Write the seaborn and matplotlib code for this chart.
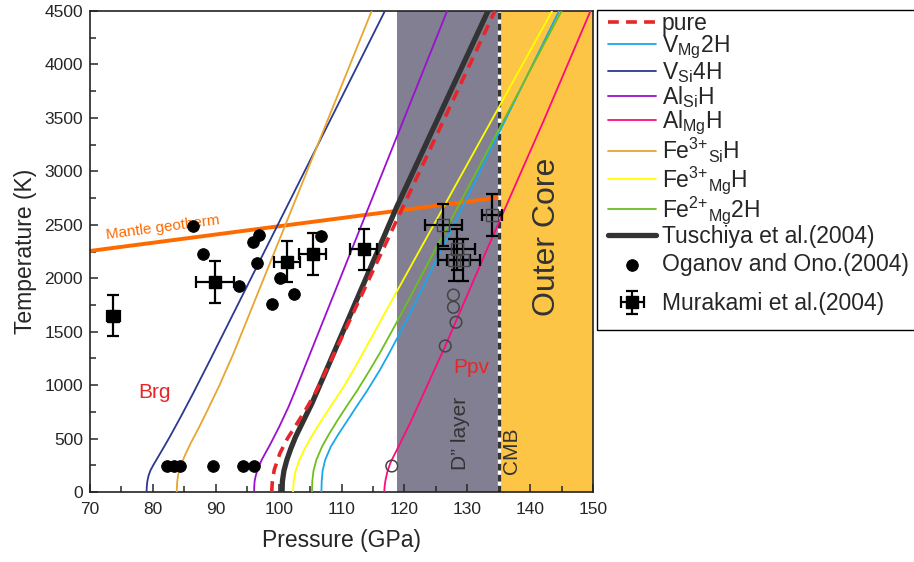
import numpy as np
import pandas as pd
import matplotlib
matplotlib.use("Agg")
import matplotlib.pyplot as plt
from matplotlib.patches import Rectangle
import seaborn as sns

# phase boundaries: temperature (K) vs pressure (GPa)
pure_T = [0, 100, 206, 362, 500, 611, 750, 923, 1141, 4500]
pure_P = [98.9, 99.0, 99.3, 100.2, 101.4, 102.6, 104.1, 105.8, 107.6, 134.4]

vmg2h_T = [0, 100, 200, 300, 424, 540, 674, 800, 950, 1141, 1300, 1600, 4500]
vmg2h_P = [106.8, 106.85, 107.0, 107.4, 108.3, 109.5, 111.0, 112.4, 114.1, 116.1, 117.6, 120.3, 144.6]

vsi4h_T = [0, 50, 100, 150, 200, 250, 330, 420, 517, 700, 923, 1235, 4500]
vsi4h_P = [79.0, 79.03, 79.12, 79.3, 79.6, 80.05, 80.85, 81.75, 82.7, 84.4, 86.4, 89.1, 116.9]

alsi_T = [0, 50, 100, 150, 200, 300, 450, 611, 800, 1000, 4500]
alsi_P = [96.1, 96.12, 96.18, 96.35, 96.6, 97.3, 98.7, 100.1, 101.6, 103.0, 126.8]

almg_T = [0, 50, 112, 190, 268, 330, 393, 643, 1366, 1584, 2264, 3480, 4500]
almg_P = [116.8, 116.85, 117.0, 117.3, 117.75, 118.25, 118.8, 120.9, 126.5, 128.1, 133.1, 142.2, 149.6]

fe3si_T = [0, 50, 100, 170, 237, 350, 455, 600, 767, 1000, 1300, 4500]
fe3si_P = [83.8, 83.82, 83.88, 84.05, 84.35, 85.15, 86.0, 87.3, 88.7, 90.6, 92.85, 114.8]

fe3mg_T = [0, 100, 200, 300, 400, 517, 650, 830, 1000, 1141, 1300, 1600, 4500]
fe3mg_P = [102.3, 102.38, 102.7, 103.3, 104.1, 105.2, 106.6, 108.6, 110.5, 111.9, 113.4, 116.2, 143.5]

fe2mg_T = [0, 100, 200, 300, 424, 540, 674, 800, 950, 1141, 1300, 1600, 4500]
fe2mg_P = [105.3, 105.35, 105.55, 106.0, 106.9, 108.0, 109.4, 110.8, 112.5, 114.5, 116.1, 118.9, 145.0]

tsu_T = [0, 100, 200, 299, 400, 517, 650, 830, 1141, 2669, 4500]
tsu_P = [100.55, 100.6, 100.85, 101.3, 101.9, 102.7, 103.8, 105.3, 107.6, 118.8, 133.3]

geo_P = [70, 134.7]
geo_T = [2255, 2753]

# Oganov and Ono (2004)
og_P = [86.4, 87.9, 93.7, 96.0, 96.9, 96.5, 98.9, 100.2, 102.5, 106.7,
        82.3, 83.4, 84.3, 89.5, 94.3, 96.1]
og_T = [2489, 2224, 1930, 2342, 2404, 2140, 1759, 1999, 1850, 2395,
        240, 240, 240, 240, 240, 240]
og_ppv_P = [118.0, 126.5, 128.2, 127.8, 127.8]
og_ppv_T = [243, 1366, 1588, 1728, 1843]

# Murakami et al. (2004)
mu_P = [73.7, 89.9, 101.3, 105.4, 113.5]
mu_T = [1647, 1962, 2155, 2227, 2270]
mu_Perr = [1.0, 3.0, 2.1, 2.1, 2.1]
mu_Terr = [192, 195, 195, 195, 195]
mu_ppv_P = [126.2, 128.3, 127.9, 129.4, 133.9]
mu_ppv_T = [2498, 2270, 2170, 2170, 2591]
mu_ppv_Perr = [2.9, 2.9, 2.6, 2.6, 1.6]
mu_ppv_Terr = [195, 195, 195, 195, 195]

sns.set_style("ticks")
plt.rcParams["font.family"] = ["Liberation Sans", "DejaVu Sans"]
plt.rcParams["mathtext.default"] = "regular"

fig = plt.figure(figsize=(9.14, 5.62), dpi=100)
ax = fig.add_axes([90 / 914, 1 - 492 / 562, 503 / 914, 481 / 562])

# regions
ax.axvspan(118.9, 135.0, color="#817f91", lw=0, zorder=0)
ax.axvspan(135.0, 150, color="#fdc546", lw=0, zorder=0)
ax.axvline(135.0, color="white", lw=2.4, zorder=1)
ax.axvline(135.0, color="#333333", lw=2.4, ls=(0, (2, 1.3)), zorder=1)

# geotherm
sns.lineplot(x=geo_P, y=geo_T, color="#ff6a00", lw=2.8, ax=ax, zorder=2)

curves = [
    (pure_P, pure_T, "#e8262a", 2.6, (0, (3, 2)), "pure", 6),
    (vmg2h_P, vmg2h_T, "#1aa7ec", 1.3, "-", r"V$_{Mg}$2H", 3),
    (vsi4h_P, vsi4h_T, "#2b3990", 1.3, "-", r"V$_{Si}$4H", 3),
    (alsi_P, alsi_T, "#9b10d0", 1.3, "-", r"Al$_{Si}$H", 3),
    (almg_P, almg_T, "#ff0a7f", 1.3, "-", r"Al$_{Mg}$H", 3),
    (fe3si_P, fe3si_T, "#e8a530", 1.3, "-", r"Fe$^{3{+}}$$_{Si}$H", 3),
    (fe3mg_P, fe3mg_T, "#ffff00", 1.3, "-", r"Fe$^{3{+}}$$_{Mg}$H", 3),
    (fe2mg_P, fe2mg_T, "#6cbf1f", 1.3, "-", r"Fe$^{2{+}}$$_{Mg}$2H", 3),
    (tsu_P, tsu_T, "#333333", 3.8, "-", "Tuschiya et al.(2004)", 5),
]
handles = {}
for P, T, c, lw, ls, lab, z in curves:
    df = pd.DataFrame({"P": P, "T": T})
    sns.lineplot(data=df, x="P", y="T", sort=False, estimator=None,
                 color=c, lw=lw, ls=ls, ax=ax, zorder=z)
    handles[lab] = ax.lines[-1]

# data points
sns.scatterplot(x=og_P, y=og_T, color="black", s=70, edgecolor="black",
                ax=ax, zorder=7)
h_og = ax.collections[-1]
ax.scatter(og_ppv_P, og_ppv_T, s=70, facecolor="none", edgecolor="#444444",
           lw=1.1, zorder=7)

h_mu = ax.errorbar(mu_P, mu_T, xerr=mu_Perr, yerr=mu_Terr, fmt="s", color="black",
                   ms=9, elinewidth=1.6, capsize=4, capthick=1.6, zorder=8)
ax.errorbar(mu_ppv_P, mu_ppv_T, xerr=mu_ppv_Perr, yerr=mu_ppv_Terr, fmt="s",
            color="black", mfc="none", mec="#444444", ms=9, elinewidth=1.6,
            capsize=4, capthick=1.6, zorder=8)

# text annotations
ax.text(81.6, 2478, "Mantle geotherm", color="#ff6a00", fontsize=11,
        rotation=7.5, ha="center", va="center")
ax.text(80.3, 935, "Brg", color="#e8262a", fontsize=15, ha="center", va="center")
ax.text(130.6, 1165, "Ppv", color="#e8262a", fontsize=15, ha="center", va="center")
ax.text(129.0, 545, "D\u201d layer", color="#333333", fontsize=15, rotation=90,
        ha="center", va="center")
ax.text(137.1, 385, "CMB", color="#333333", fontsize=15, rotation=90,
        ha="center", va="center")
ax.text(142.7, 2390, "Outer Core", color="#333333", fontsize=23, rotation=90,
        ha="center", va="center")

ax.set_xlim(70, 150)
ax.set_ylim(0, 4500)
ax.set_xticks(np.arange(70, 151, 10))
ax.set_yticks(np.arange(0, 4501, 500))
ax.set_xticks(np.arange(75, 150, 10), minor=True)
ax.set_yticks(np.arange(250, 4500, 500), minor=True)
ax.tick_params(which="both", direction="in", labelsize=12.5, width=1.1)
ax.tick_params(which="major", length=6)
ax.tick_params(axis="x", which="major", pad=7)
ax.tick_params(axis="y", which="major", pad=5)
ax.tick_params(which="minor", length=4)
for s in ax.spines.values():
    s.set_linewidth(1.2)
    s.set_color("#222222")
ax.set_xlabel("Pressure (GPa)", fontsize=16.5, labelpad=9)
ax.set_ylabel("Temperature (K)", fontsize=16.5, labelpad=5)

# legend: line entries, then the two data sets, inside one frame
leg_opts = dict(loc="upper left", bbox_transform=fig.transFigure, fontsize=16.5,
                frameon=False, handlelength=2.1, handletextpad=0.25,
                borderpad=0.05, borderaxespad=0)
leg1 = ax.legend([handles[c[5]] for c in curves], [c[5] for c in curves],
                 bbox_to_anchor=(607 / 914, 1 - 11 / 562), labelspacing=-0.05,
                 **leg_opts)
ax.add_artist(leg1)
ax.legend([h_og, h_mu], ["Oganov and Ono.(2004)", "Murakami et al.(2004)"],
          bbox_to_anchor=(607 / 914, 1 - 252 / 562), labelspacing=0.7, **leg_opts)
fig.patches.append(Rectangle((597 / 914, 1 - 330 / 562), 330 / 914, 320 / 562,
                             transform=fig.transFigure, fill=False,
                             edgecolor="black", lw=1.0))

fig.savefig("out.png", dpi=100)
